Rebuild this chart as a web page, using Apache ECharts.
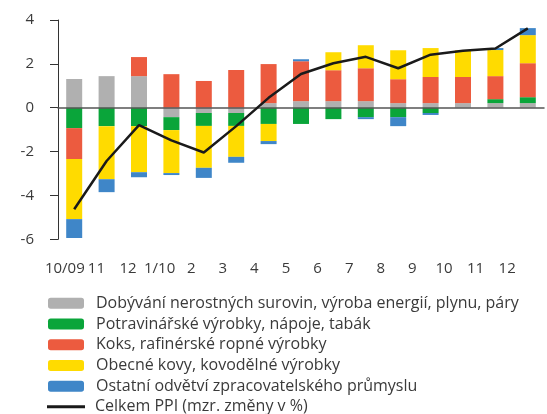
<!DOCTYPE html>
<html>
<head>
<meta charset="utf-8">
<script src="https://cdn.jsdelivr.net/npm/echarts@6/dist/echarts.min.js"></script>
<style>
  html, body { margin: 0; padding: 0; background: #fff; }
  #chart { width: 547px; height: 414px; }
</style>
</head>
<body>
<div id="chart"></div>
<script>
// Month labels (10/2009 – 12/2010)
const categories = ['10/09', '11', '12', '1/10', '2', '3', '4', '5', '6', '7', '8', '9', '10', '11', '12'];

// Contributions to y/y PPI change, percentage points
const mining = [1.31, 1.44, 1.44, -0.43, -0.24, -0.24, 0.21, 0.30, 0.30, 0.30, 0.21, 0.21, 0.21, 0.21, 0.21];
const food   = [-0.93, -0.84, -0.84, -0.59, -0.59, -0.59, -0.74, -0.74, -0.52, -0.43, -0.43, -0.24, 0, 0.18, 0.27];
const coke   = [-1.41, 0, 0.87, 1.53, 1.22, 1.72, 1.78, 1.82, 1.41, 1.50, 1.09, 1.19, 1.19, 1.05, 1.55];
const metals = [-2.74, -2.42, -2.10, -1.96, -1.91, -1.41, -0.78, 0, 0.82, 1.05, 1.32, 1.32, 1.22, 1.19, 1.28];
const other  = [-0.86, -0.59, -0.23, -0.09, -0.46, -0.27, -0.14, 0.09, 0, -0.09, -0.41, -0.09, 0, 0.09, 0.32];
const ppiTotal = [-4.63, -2.43, -0.79, -1.49, -2.04, -0.84, 0.45, 1.54, 2.03, 2.32, 1.80, 2.42, 2.60, 2.70, 3.62];

const yTicks = { min: -6, max: 4, interval: 2 };

const names = [
  'Dobývání nerostných surovin, výroba energií, plynu, páry',
  'Potravinářské výrobky, nápoje, tabák',
  'Koks, rafinérské ropné výrobky',
  'Obecné kovy, kovodělné výrobky',
  'Ostatní odvětví zpracovatelského průmyslu',
  'Celkem PPI (mzr. změny v %)'
];
const colors = ['#b0b0b0', '#0aa53a', '#ec5b3f', '#ffdb00', '#3f86c8'];
const lineColor = '#1a1a1a';
const barData = [mining, food, coke, metals, other];

const FONT = '"Open Sans", sans-serif';
const TEXT = '#3a3a3a';

const chart = echarts.init(document.getElementById('chart'), null, { renderer: 'canvas' });

const bars = barData.map((d, i) => ({
  name: names[i],
  type: 'bar',
  stack: 'total',
  xAxisIndex: 0,
  yAxisIndex: 0,
  barWidth: 16,
  itemStyle: { color: colors[i] },
  data: d,
  z: 2
}));

const legendText = {
  fontSize: 16,
  color: TEXT,
  fontFamily: FONT,
  lineHeight: 20.7,
  padding: [0, 0, 0, 7]
};

chart.setOption({
  animation: false,
  textStyle: { fontFamily: FONT },
  grid: [
    { left: 58, right: 3, top: 20, bottom: 174.7 },
    { left: 49, width: 474, top: 20, bottom: 174.7 }
  ],
  xAxis: [
    {
      type: 'category',
      gridIndex: 0,
      data: categories,
      axisLine: { onZero: true, lineStyle: { color: '#555', width: 1.5 } },
      axisTick: { show: false },
      axisLabel: { show: false },
      z: 5
    },
    {
      type: 'category',
      gridIndex: 1,
      data: categories,
      position: 'bottom',
      axisLine: { show: false },
      axisTick: { show: false },
      axisLabel: { interval: 0, margin: 22, fontSize: 15, color: TEXT, fontFamily: FONT }
    }
  ],
  yAxis: [
    {
      type: 'value',
      gridIndex: 0,
      min: yTicks.min, max: yTicks.max, interval: yTicks.interval,
      axisLine: { show: true, lineStyle: { color: '#333', width: 1 } },
      axisTick: { show: true, length: 8, lineStyle: { color: '#333' } },
      splitLine: { show: false },
      axisLabel: { margin: 24, fontSize: 15, color: TEXT, fontFamily: FONT }
    },
    {
      type: 'value',
      gridIndex: 1,
      min: yTicks.min, max: yTicks.max, interval: yTicks.interval,
      show: false
    }
  ],
  legend: [
    {
      orient: 'vertical',
      left: 48,
      top: 293,
      itemWidth: 36,
      itemHeight: 11,
      itemGap: 0,
      padding: 0,
      data: names.slice(0, 5),
      textStyle: legendText
    },
    {
      orient: 'vertical',
      left: 47,
      top: 396.5,
      itemWidth: 38,
      itemHeight: 3,
      itemGap: 0,
      padding: 0,
      data: [{ name: names[5], icon: 'rect' }],
      itemStyle: { color: lineColor },
      textStyle: Object.assign({}, legendText, { padding: [0, 0, 0, 5] })
    }
  ],
  series: [
    ...bars,
    {
      name: names[5],
      type: 'line',
      xAxisIndex: 0,
      yAxisIndex: 0,
      data: ppiTotal,
      symbol: 'none',
      lineStyle: { color: lineColor, width: 2.5 },
      itemStyle: { color: lineColor },
      z: 10
    }
  ]
});
</script>
</body>
</html>
